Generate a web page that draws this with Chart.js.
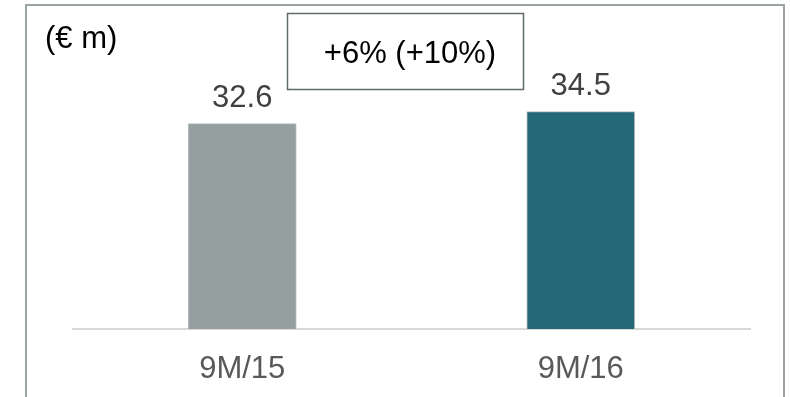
<!DOCTYPE html>
<html>
<head>
<meta charset="utf-8">
<script src="https://cdn.jsdelivr.net/npm/chart.js@4.4.1/dist/chart.umd.min.js"></script>
<style>
  html, body { margin: 0; padding: 0; background: #ffffff; }
  #wrap { width: 790px; height: 397px; }
</style>
</head>
<body>
<div id="wrap"><canvas id="chart" width="790" height="397"></canvas></div>
<script>
// Revenue by period, in € m
const categories = ['9M/15', '9M/16'];
const values = [32.6, 34.5];
const barColors = ['#959fa0', '#256878'];
const unitLabel = '(€ m)';
const changeLabel = '+6% (+10%)';

const FONT = "'Liberation Sans', Arial, Helvetica, sans-serif";
const SIZE = 31;

// Frame, unit caption, change box and value labels
const decorations = {
  id: 'decorations',
  beforeDraw(chart) {
    const ctx = chart.ctx;
    ctx.save();
    ctx.fillStyle = '#ffffff';
    ctx.fillRect(0, 0, chart.width, chart.height);
    ctx.restore();
  },
  afterDatasetsDraw(chart) {
    const ctx = chart.ctx;
    ctx.save();

    // outer frame (open at the bottom)
    ctx.strokeStyle = '#9aa4a6';
    ctx.lineWidth = 2;
    ctx.beginPath();
    ctx.moveTo(26, chart.height + 2);
    ctx.lineTo(26, 5);
    ctx.lineTo(784, 5);
    ctx.lineTo(784, chart.height + 2);
    ctx.stroke();

    // unit caption
    ctx.font = SIZE + 'px ' + FONT;
    ctx.fillStyle = '#000000';
    ctx.textAlign = 'left';
    ctx.textBaseline = 'alphabetic';
    ctx.fillText(unitLabel, 45, 48);

    // change box
    ctx.strokeStyle = '#5f6a6b';
    ctx.lineWidth = 1.5;
    ctx.strokeRect(287.5, 13.5, 236, 76);
    ctx.textAlign = 'center';
    ctx.fillStyle = '#000000';
    ctx.fillText(changeLabel, 410, 63);

    // value labels above bars
    const meta = chart.getDatasetMeta(0);
    ctx.fillStyle = '#404040';
    meta.data.forEach((bar, i) => {
      ctx.fillText(values[i].toFixed(1), bar.x, bar.y - 17);
    });

    ctx.restore();
  }
};

new Chart(document.getElementById('chart'), {
  type: 'bar',
  data: {
    labels: categories,
    datasets: [{
      data: values,
      backgroundColor: barColors,
      borderColor: '#b4bdbf',
      borderWidth: 1,
      barThickness: 108
    }]
  },
  options: {
    responsive: false,
    animation: false,
    events: [],
    layout: { padding: { left: 73, right: 40, top: 14, bottom: 0 } },
    plugins: {
      legend: { display: false },
      tooltip: { enabled: false },
      title: { display: false }
    },
    scales: {
      x: {
        offset: true,
        grid: { display: false, drawTicks: false },
        border: { display: true, color: '#d9d9d9', width: 2 },
        ticks: {
          color: '#595959',
          font: { family: FONT, size: SIZE },
          padding: 22,
          maxRotation: 0
        },
        afterFit(scale) { scale.height = 68; }
      },
      y: {
        display: false,
        min: 0,
        max: 50
      }
    }
  },
  plugins: [decorations]
});
</script>
</body>
</html>
